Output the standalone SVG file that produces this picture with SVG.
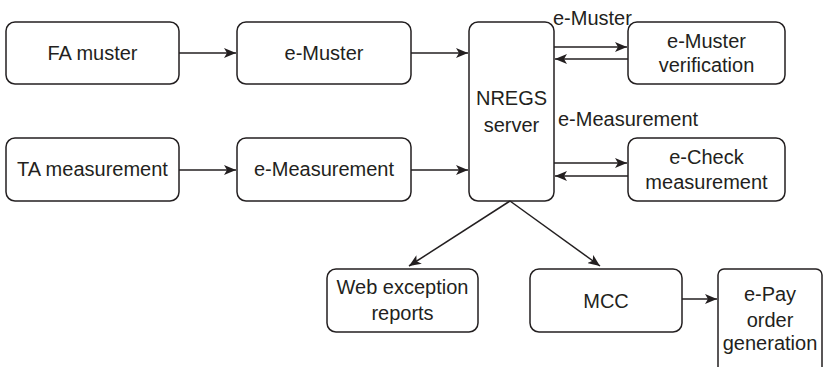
<svg xmlns="http://www.w3.org/2000/svg" width="837" height="367" viewBox="0 0 837 367">
  <defs>
    <marker id="arrow" viewBox="0 0 12 10" markerWidth="12" markerHeight="10" refX="12" refY="5" orient="auto" markerUnits="userSpaceOnUse">
      <path d="M0,0 L12,5 L0,10 L3,5 Z" fill="#231f20"/>
    </marker>
  </defs>
  <style>
    .box { fill: #fff; stroke: #231f20; stroke-width: 1.5; }
    .lbl { font-family: "Liberation Sans", Arial, sans-serif; font-size: 20px; fill: #231f20; text-anchor: middle; }
    .edge { fill: none; stroke: #231f20; stroke-width: 1.5; marker-end: url(#arrow); }
    .elbl { font-family: "Liberation Sans", Arial, sans-serif; font-size: 20px; fill: #231f20; }
  </style>
  <rect width="837" height="367" fill="#fff"/>

  <g id="fa-muster">
    <rect class="box" x="6" y="22" width="173" height="62" rx="9"/>
    <text class="lbl" x="92.5" y="60">FA muster</text>
  </g>
  <g id="e-muster">
    <rect class="box" x="237" y="22" width="174" height="62" rx="9"/>
    <text class="lbl" x="324" y="60">e-Muster</text>
  </g>
  <g id="ta-measurement">
    <rect class="box" x="6" y="138" width="173" height="63" rx="9"/>
    <text class="lbl" x="92.5" y="176">TA measurement</text>
  </g>
  <g id="e-measurement">
    <rect class="box" x="237" y="138" width="174" height="63" rx="9"/>
    <text class="lbl" x="324" y="176">e-Measurement</text>
  </g>
  <g id="nregs-server">
    <rect class="box" x="469" y="22" width="85" height="179" rx="9"/>
    <text class="lbl" x="511.5" y="105">NREGS</text>
    <text class="lbl" x="511.5" y="132">server</text>
  </g>
  <g id="e-muster-verification">
    <rect class="box" x="628" y="22" width="157" height="62" rx="9"/>
    <text class="lbl" x="706.5" y="48">e-Muster</text>
    <text class="lbl" x="706.5" y="72">verification</text>
  </g>
  <g id="e-check-measurement">
    <rect class="box" x="628" y="138" width="157" height="63" rx="9"/>
    <text class="lbl" x="706.5" y="164">e-Check</text>
    <text class="lbl" x="706.5" y="189">measurement</text>
  </g>
  <g id="web-exception-reports">
    <rect class="box" x="327" y="269" width="151" height="63" rx="9"/>
    <text class="lbl" x="402.5" y="294">Web exception</text>
    <text class="lbl" x="402.5" y="320">reports</text>
  </g>
  <g id="mcc">
    <rect class="box" x="530" y="269" width="152" height="63" rx="9"/>
    <text class="lbl" x="606" y="308">MCC</text>
  </g>
  <g id="e-pay-order-generation">
    <rect class="box" x="718" y="269" width="104" height="110" rx="6"/>
    <text class="lbl" x="770" y="301">e-Pay</text>
    <text class="lbl" x="770" y="327">order</text>
    <text class="lbl" x="770" y="350">generation</text>
  </g>

  <g id="connectors">
    <line class="edge" x1="179" y1="53" x2="236" y2="53"/>
    <line class="edge" x1="411" y1="53" x2="468" y2="53"/>
    <line class="edge" x1="179" y1="170" x2="236" y2="170"/>
    <line class="edge" x1="411" y1="170" x2="468" y2="170"/>
    <line class="edge" x1="554" y1="47" x2="627" y2="47"/>
    <line class="edge" x1="628" y1="59" x2="555" y2="59"/>
    <line class="edge" x1="554" y1="163" x2="627" y2="163"/>
    <line class="edge" x1="628" y1="176" x2="555" y2="176"/>
    <line class="edge" x1="510" y1="201" x2="409" y2="266"/>
    <line class="edge" x1="510" y1="201" x2="600" y2="266"/>
    <line class="edge" x1="682" y1="299" x2="717" y2="299"/>
    <text class="elbl" x="553" y="25">e-Muster</text>
    <text class="elbl" x="558" y="126">e-Measurement</text>
  </g>
</svg>
